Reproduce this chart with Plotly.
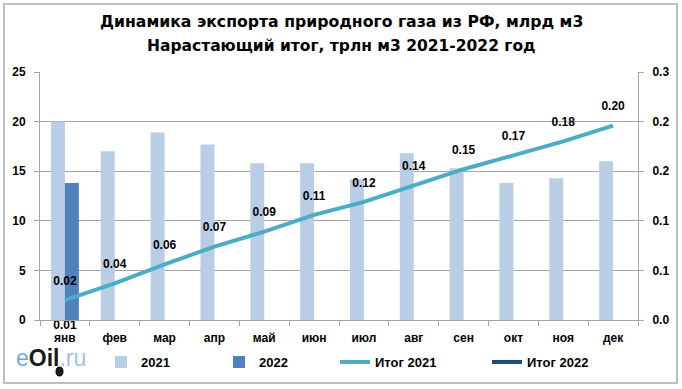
import plotly.graph_objects as go

months = ["янв", "фев", "мар", "апр", "май", "июн", "июл", "авг", "сен", "окт", "ноя", "дек"]
exp_2021 = [20.0, 17.0, 18.9, 17.7, 15.8, 15.8, 14.2, 16.8, 15.3, 13.8, 14.3, 16.0]
exp_2022 = [13.8, None, None, None, None, None, None, None, None, None, None, None]
itog_2021 = [0.020, 0.037, 0.056, 0.074, 0.089, 0.106, 0.119, 0.136, 0.152, 0.166, 0.180, 0.196]
itog_2022 = [0.0138]
right_ticks = [0, 0.05, 0.10, 0.15, 0.20, 0.25]
right_tick_text = ["0.0", "0.1", "0.1", "0.2", "0.2", "0.3"]

FONT = "Liberation Sans, Arial, sans-serif"
W, H = 682, 389
L, R, T, B = 40, 44, 72, 69
PW, PH = W - L - R, H - T - B


def px(x):
    return (x - L) / PW


def py(y):
    return (H - B - y) / PH


fig = go.Figure()
fig.add_trace(go.Bar(x=months, y=exp_2021, name="2021", marker_color="#b9cde5",
                     marker_line_width=0, legend="legend"))
fig.add_trace(go.Bar(x=months, y=exp_2022, name="2022", marker_color="#4f81bd",
                     marker_line_width=0, legend="legend"))
fig.add_trace(go.Scatter(x=months, y=itog_2021, name="Итог 2021", yaxis="y2",
                         mode="lines+markers+text", line=dict(color="#4bacc6", width=4),
                         marker=dict(size=18, color="rgba(0,0,0,0)", line=dict(width=0)),
                         text=[f"{v:.2f}" for v in itog_2021], textposition="top center",
                         textfont=dict(family=FONT, size=12, color="#000000", weight="bold"),
                         cliponaxis=False, legend="legend2"))
fig.add_trace(go.Scatter(x=months[:1], y=itog_2022, name="Итог 2022", yaxis="y2",
                         mode="lines+markers+text", line=dict(color="#1f497d", width=4),
                         marker=dict(size=20, color="rgba(0,0,0,0)", line=dict(width=0)),
                         text=[f"{v:.2f}" for v in itog_2022], textposition="bottom center",
                         textfont=dict(family=FONT, size=12, color="#000000", weight="bold"),
                         cliponaxis=False, legend="legend2"))

legend_font = dict(family=FONT, size=13, color="#000000", weight="bold")
fig.update_layout(
    width=W, height=H,
    margin=dict(l=L, r=R, t=T, b=B, autoexpand=False),
    paper_bgcolor="white", plot_bgcolor="white",
    font=dict(family=FONT, size=11, color="#000000"),
    barmode="group", bargap=0.44, bargroupgap=0,
    xaxis=dict(range=[-0.5, 11.5], autorange=False, showline=True, linecolor="#a6a6a6",
               linewidth=1, ticks="outside", tickson="boundaries", ticklen=5,
               tickcolor="#a6a6a6", automargin=False, ticklabelstandoff=7,
               tickfont=dict(family=FONT, size=12, color="#000000", weight="bold")),
    yaxis=dict(range=[0, 25], dtick=5, showline=True, linecolor="#a6a6a6", linewidth=1,
               showgrid=True, gridcolor="#a6a6a6", gridwidth=1, zeroline=False,
               ticks="outside", ticklen=5, tickcolor="#a6a6a6", automargin=False,
               ticklabelstandoff=6,
               tickfont=dict(family=FONT, size=12, color="#000000", weight="bold")),
    yaxis2=dict(range=[0, 0.25], overlaying="y", side="right", tickvals=right_ticks,
                ticktext=right_tick_text, showline=True, linecolor="#a6a6a6", linewidth=1,
                showgrid=False, zeroline=False, ticks="outside", ticklen=5, tickcolor="#a6a6a6",
                automargin=False, ticklabelstandoff=6,
                tickfont=dict(family=FONT, size=12, color="#000000", weight="bold")),
    legend=dict(orientation="h", x=px(101), xanchor="left", y=1 - 362 / H, yref="container",
                yanchor="middle", font=legend_font, traceorder="normal",
                entrywidth=73, entrywidthmode="pixels", bgcolor="rgba(0,0,0,0)"),
    legend2=dict(orientation="h", x=px(335), xanchor="left", y=1 - 362 / H, yref="container",
                 yanchor="middle", font=legend_font, traceorder="normal",
                 entrywidth=107, entrywidthmode="pixels", bgcolor="rgba(0,0,0,0)"),
    showlegend=True,
)

# title
fig.add_annotation(xref="paper", yref="paper", x=px(341), y=py(22), xanchor="center", yanchor="middle",
                   showarrow=False, text="<b>Динамика экспорта природного газа из РФ, млрд м3</b>",
                   font=dict(family="DejaVu Sans, sans-serif", size=15.7, color="#000000"))
fig.add_annotation(xref="paper", yref="paper", x=px(341), y=py(46), xanchor="center", yanchor="middle",
                   showarrow=False, text="<b>Нарастающий итог, трлн м3 2021-2022 год</b>",
                   font=dict(family="DejaVu Sans, sans-serif", size=15.5, color="#000000"))

# outer border
fig.add_shape(type="rect", xref="paper", yref="paper", x0=px(4), x1=px(677), y0=py(383), y1=py(4),
              line=dict(color="#bfbfbf", width=2), fillcolor="rgba(0,0,0,0)", layer="below")

# logo
fig.add_annotation(xref="paper", yref="paper", x=px(14), y=py(358), xanchor="left", yanchor="middle",
                   showarrow=False,
                   text="<span style='color:#6fa8dc'>e</span><b><span style='color:#1a1a1a'>Oil</span></b><span style='color:#9dc3e6'>.ru</span>",
                   font=dict(family=FONT, size=23))
fig.add_shape(type="circle", xref="paper", yref="paper", x0=px(56), x1=px(63), y0=py(376), y1=py(367),
              line=dict(color="#000000", width=1), fillcolor="#1a1a1a")

fig.write_html("out.html", post_script="document.body.style.margin='0px';",
               config={"displayModeBar": False})
